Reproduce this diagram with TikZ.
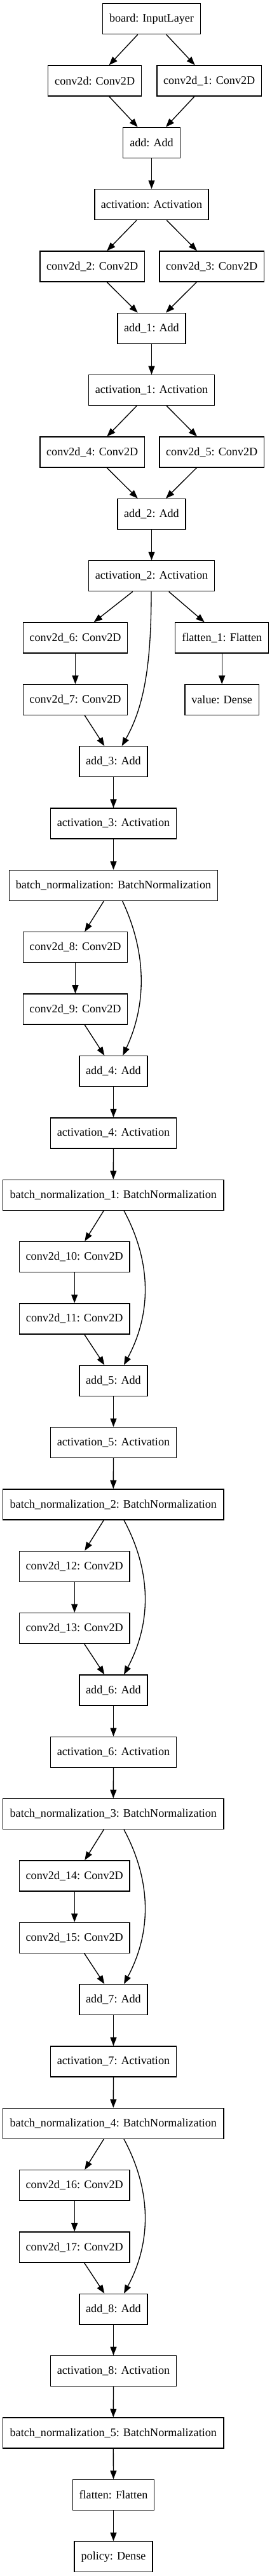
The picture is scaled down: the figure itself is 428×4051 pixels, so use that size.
\documentclass[tikz,border=0pt]{standalone}
\usepackage{fontspec}
\setmainfont{Liberation Serif}
\usetikzlibrary{arrows.meta,calc}
\begin{document}
\begin{tikzpicture}[x=0.75pt,y=-0.75pt,
  box/.style={draw=black,line width=1pt,minimum height=36pt,inner sep=0pt,
    font=\fontsize{13.6}{16}\selectfont},
  arr/.style={draw=black,line width=1pt,-{Triangle[length=10pt,width=7.5pt]}}]
\useasboundingbox (0,0) rectangle (428,4051);
\def\S{97.34}
% ---- nodes ----
\node[box,minimum width=115.2pt] (board) at (238.5,29.7) {board: InputLayer};
\node[box,minimum width=110.25pt] (c0) at (149.2,{29.7+\S*1}) {conv2d: Conv2D};
\node[box,minimum width=123.2pt] (c1) at (329.2,{29.7+\S*1}) {conv2d\_1: Conv2D};
\node[box,minimum width=67.2pt] (add0) at (238.5,{29.7+\S*2}) {add: Add};
\node[box,minimum width=134.25pt] (act0) at (238.5,{29.7+\S*3}) {activation: Activation};
\node[box,minimum width=123.2pt] (c2) at (145.2,{29.7+\S*4}) {conv2d\_2: Conv2D};
\node[box,minimum width=123.2pt] (c3) at (333.2,{29.7+\S*4}) {conv2d\_3: Conv2D};
\node[box,minimum width=80.25pt] (add1) at (238.5,{29.7+\S*5}) {add\_1: Add};
\node[box,minimum width=148.5pt] (act1) at (238.5,{29.7+\S*6}) {activation\_1: Activation};
\node[box,minimum width=123.2pt] (c4) at (145.2,{29.7+\S*7}) {conv2d\_4: Conv2D};
\node[box,minimum width=123.2pt] (c5) at (333.2,{29.7+\S*7}) {conv2d\_5: Conv2D};
\node[box,minimum width=80.25pt] (add2) at (238.5,{29.7+\S*8}) {add\_2: Add};
\node[box,minimum width=148.5pt] (act2) at (238.5,{29.7+\S*9}) {activation\_2: Activation};
\node[box,minimum width=123.2pt] (c6) at (118.5,{29.7+\S*10}) {conv2d\_6: Conv2D};
\node[box,minimum width=110.25pt] (fl1) at (349.2,{29.7+\S*10}) {flatten\_1: Flatten};
\node[box,minimum width=123.2pt] (c7) at (118.5,{29.7+\S*11}) {conv2d\_7: Conv2D};
\node[box,minimum width=87.2pt] (val) at (349.2,{29.7+\S*11}) {value: Dense};
\node[box,minimum width=80.25pt] (add3) at (178.5,{29.7+\S*12}) {add\_3: Add};
\node[box,minimum width=148.5pt] (act3) at (178.5,{29.7+\S*13}) {activation\_3: Activation};
\node[box,minimum width=246.3pt] (bn0) at (178.5,{29.7+\S*14}) {batch\_normalization: BatchNormalization};
\node[box,minimum width=123.2pt] (c8) at (118.5,{29.7+\S*15}) {conv2d\_8: Conv2D};
\node[box,minimum width=123.2pt] (c9) at (118.5,{29.7+\S*16}) {conv2d\_9: Conv2D};
\node[box,minimum width=80.25pt] (add4) at (178.5,{29.7+\S*17}) {add\_4: Add};
\node[box,minimum width=148.5pt] (act4) at (178.5,{29.7+\S*18}) {activation\_4: Activation};
% ---- edges (top part) ----
\draw[arr] ($(board.south)+(-21.8,0)$) -- ($(c0.north)+(22.5,0)$);
\draw[arr] ($(board.south)+(23.2,0)$) -- ($(c1.north)+(-22.5,0)$);
\draw[arr] ($(c0.south)+(22.5,0)$) -- ($(add0.north)+(-21.8,0)$);
\draw[arr] ($(c1.south)+(-23.2,0)$) -- ($(add0.north)+(22.5,0)$);
\draw[arr] (add0.south) -- (act0.north);
\draw[arr] ($(act0.south)+(-23.5,0)$) -- ($(c2.north)+(23.1,0)$);
\draw[arr] ($(act0.south)+(23.8,0)$) -- ($(c3.north)+(-23.2,0)$);
\draw[arr] ($(c2.south)+(23.1,0)$) -- ($(add1.north)+(-21.8,0)$);
\draw[arr] ($(c3.south)+(-23.9,0)$) -- ($(add1.north)+(22.5,0)$);
\draw[arr] (add1.south) -- (act1.north);
\draw[arr] ($(act1.south)+(-23.5,0)$) -- ($(c4.north)+(23.1,0)$);
\draw[arr] ($(act1.south)+(23.8,0)$) -- ($(c5.north)+(-23.2,0)$);
\draw[arr] ($(c4.south)+(23.1,0)$) -- ($(add2.north)+(-21.8,0)$);
\draw[arr] ($(c5.south)+(-23.9,0)$) -- ($(add2.north)+(22.5,0)$);
\draw[arr] (add2.south) -- (act2.north);
\draw[arr] ($(act2.south)+(-29.8,0)$) -- ($(c6.north)+(29.2,0)$);
\draw[arr] ($(act2.south)+(27.2,0)$) -- ($(fl1.north)+(-27.5,0)$);
\draw[arr] ($(act2.south)+(-0.5,0)$) .. controls +(0,110) and +(36.3,-64) .. ($(add3.north)+(13.2,0)$);
\draw[arr] (c6.south) -- (c7.north);
\draw[arr] (fl1.south) -- (val.north);
\draw[arr] ($(c7.south)+(14.8,0)$) -- ($(add3.north)+(-14.2,0)$);
\draw[arr] (add3.south) -- (act3.north);
\draw[arr] (act3.south) -- (bn0.north);
\draw[arr] ($(bn0.south)+(-15.2,0)$) -- ($(c8.north)+(14.8,0)$);
\draw[arr] ($(bn0.south)+(14.2,0)$) .. controls +(38,81) and +(38,-81) .. ($(add4.north)+(14.8,0)$);
\draw[arr] (c8.south) -- (c9.north);
\draw[arr] ($(c9.south)+(14.8,0)$) -- ($(add4.north)+(-14.2,0)$);
\draw[arr] (add4.south) -- (act4.north);
% ---- repeated blocks ----
\foreach \k in {1,...,4}{
  \pgfmathtruncatemacro\r{19+5*(\k-1)}
  \pgfmathtruncatemacro\ca{8+2*\k}
  \pgfmathtruncatemacro\cb{9+2*\k}
  \pgfmathtruncatemacro\ad{4+\k}
  \pgfmathtruncatemacro\ap{3+\k}
  \node[box,minimum width=260.5pt] (bn\k) at (178.3,{29.7+\S*\r}) {batch\_normalization\_\k: BatchNormalization};
  \node[box,minimum width=130.3pt] (c\ca) at (117.2,{29.7+\S*(\r+1)}) {conv2d\_\ca: Conv2D};
  \node[box,minimum width=130.3pt] (c\cb) at (117.2,{29.7+\S*(\r+2)}) {conv2d\_\cb: Conv2D};
  \node[box,minimum width=80.25pt] (add\ad) at (178.5,{29.7+\S*(\r+3)}) {add\_\ad: Add};
  \node[box,minimum width=148.5pt] (act\ad) at (178.5,{29.7+\S*(\r+4)}) {activation\_\ad: Activation};
  \draw[arr] (act\ap.south) -- (bn\k.north);
  \draw[arr] ($(bn\k.south)+(-15,0)$) -- ($(c\ca.north)+(16.1,0)$);
  \draw[arr] ($(bn\k.south)+(16.7,0)$) .. controls +(43.6,81) and +(43.6,-81) .. ($(add\ad.north)+(16.5,0)$);
  \draw[arr] (c\ca.south) -- (c\cb.north);
  \draw[arr] ($(c\cb.south)+(15.5,0)$) -- ($(add\ad.north)+(-14.2,0)$);
  \draw[arr] (add\ad.south) -- (act\ad.north);
}
% ---- tail ----
\node[box,minimum width=260.5pt] (bn5) at (178.3,{29.7+\S*39}) {batch\_normalization\_5: BatchNormalization};
\node[box,minimum width=96.3pt] (fl) at (178.5,{29.7+\S*40}) {flatten: Flatten};
\node[box,minimum width=92.25pt] (pol) at (178.5,{29.7+\S*41}) {policy: Dense};
\draw[arr] (act8.south) -- (bn5.north);
\draw[arr] (bn5.south) -- (fl.north);
\draw[arr] (fl.south) -- (pol.north);
\end{tikzpicture}
\end{document}
